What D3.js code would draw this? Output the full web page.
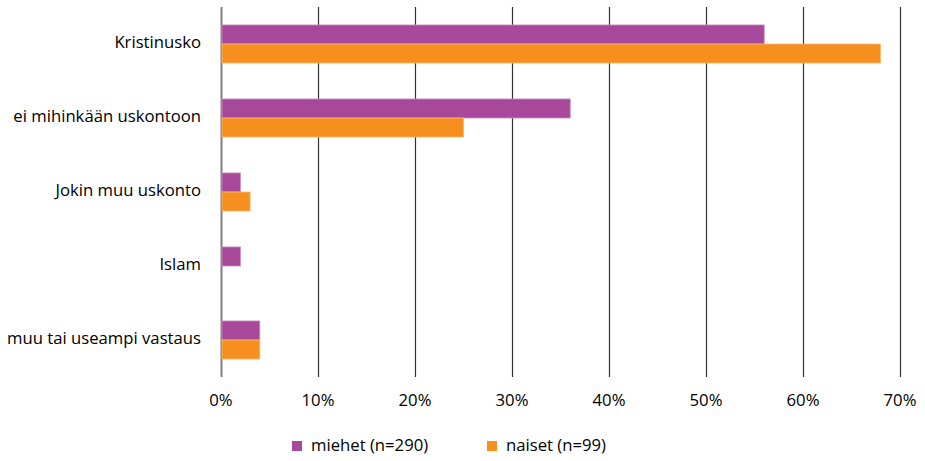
<!DOCTYPE html>
<html>
<head>
<meta charset="utf-8">
<script src="https://cdn.jsdelivr.net/npm/d3@7"></script>
<style>
  body { margin: 0; background: #fff; }
  svg text { font-family: "Open Sans", Lato, sans-serif; fill: #000; }
</style>
</head>
<body>
<svg id="chart" width="925" height="461"></svg>
<script>
// data
const categories = ["Kristinusko", "ei mihinkään uskontoon", "Jokin muu uskonto", "Islam", "muu tai useampi vastaus"];
const seriesNames = ["miehet (n=290)", "naiset (n=99)"];
const miehet = [56, 36, 2, 2, 4];
const naiset = [68, 25, 3, 0, 4];
const xTicks = [0, 10, 20, 30, 40, 50, 60, 70];
const colors = ["#A8489A", "#F78F1E"];
const strokes = ["#C98DC0", "#FBB870"];

const svg = d3.select("#chart");
const margin = { top: 7, right: 25, bottom: 84, left: 221 };
const width = 925, height = 461;
const fontSize = "16.7px";

const x = d3.scaleLinear()
    .domain([0, 70])
    .range([margin.left, margin.left + 679]);

const y = d3.scaleBand()
    .domain(categories)
    .range([margin.top, height - margin.bottom])
    .paddingInner(0.486)
    .paddingOuter(0.243);

const inner = d3.scaleBand()
    .domain([0, 1])
    .range([0, y.bandwidth()]);

// gridlines
svg.append("g")
    .selectAll("line")
    .data(xTicks)
    .join("line")
    .attr("x1", d => x(d) + 0.5)
    .attr("x2", d => x(d) + 0.5)
    .attr("y1", margin.top)
    .attr("y2", height - margin.bottom)
    .attr("stroke", d => d === 0 ? "#7f7f7f" : "#333")
    .attr("stroke-width", d => d === 0 ? 2 : 1.2);

// bars
const series = [miehet, naiset];
series.forEach((vals, s) => {
    svg.append("g")
        .selectAll("rect")
        .data(vals.map((v, i) => ({ cat: categories[i], v })).filter(d => d.v > 0))
        .join("rect")
        .attr("x", x(0) + 1)
        .attr("y", d => y(d.cat) + inner(s))
        .attr("width", d => x(d.v) - x(0) - 1)
        .attr("height", inner.bandwidth())
        .attr("fill", colors[s])
        .attr("stroke", strokes[s])
        .attr("stroke-width", 0.8);
});

// category labels
svg.append("g")
    .selectAll("text")
    .data(categories)
    .join("text")
    .attr("x", margin.left - 20)
    .attr("y", d => y(d) + y.bandwidth() / 2)
    .attr("text-anchor", "end")
    .attr("dominant-baseline", "middle")
    .style("font-size", fontSize)
    .text(d => d);

// x tick labels
svg.append("g")
    .selectAll("text")
    .data(xTicks)
    .join("text")
    .attr("x", d => x(d))
    .attr("y", 402)
    .attr("text-anchor", "middle")
    .attr("dominant-baseline", "middle")
    .style("font-size", fontSize)
    .text(d => d + "%");

// legend
const legendX = [292, 487];
const legend = svg.append("g");
seriesNames.forEach((name, i) => {
    legend.append("rect")
        .attr("x", legendX[i])
        .attr("y", 441)
        .attr("width", 10)
        .attr("height", 10)
        .attr("fill", colors[i]);
    legend.append("text")
        .attr("x", legendX[i] + 19)
        .attr("y", 447)
        .attr("dominant-baseline", "middle")
        .style("font-size", fontSize)
        .text(name);
});
</script>
</body>
</html>
